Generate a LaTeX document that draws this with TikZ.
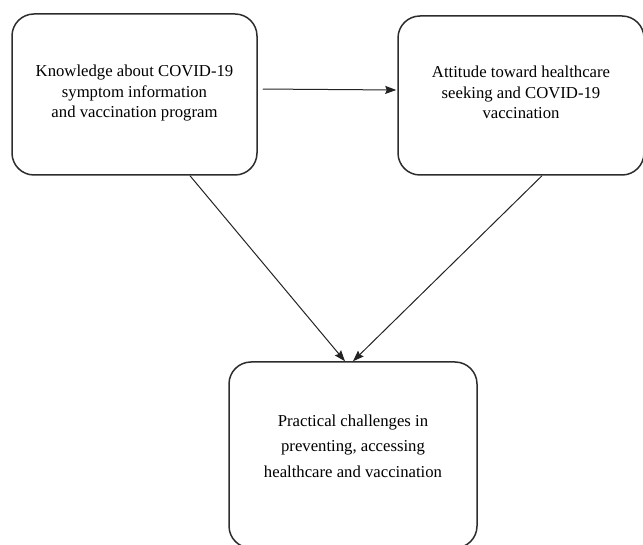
\documentclass[tikz,border=0pt]{standalone}
\usepackage{fontspec}
\setmainfont{Liberation Serif}
\usetikzlibrary{arrows.meta, positioning}
\definecolor{boxline}{RGB}{45,45,45}
\definecolor{arrowline}{RGB}{35,35,35}
\newcommand\boxfont{\fontsize{16.7}{20.5}\selectfont}
\newcommand\widefont{\fontsize{16.7}{25.5}\selectfont}

\begin{document}
\begin{tikzpicture}[
    x=1pt, y=-1pt,
    box/.style={draw=boxline, line width=1.5pt, rounded corners=22pt, inner sep=0pt,
                align=center, font=\boxfont},
    link/.style={-{Stealth[length=11pt, width=8pt, inset=1.5pt]}, arrowline, line width=1pt},
]
\useasboundingbox (0,0) rectangle (643,545);

% ===== Boxes =====
\node[box, minimum width=245pt, minimum height=161pt, text depth=6pt] (know) at (134.5,94.5)
  {Knowledge about COVID-19\\ symptom information\\ and vaccination program};
\node[box, minimum width=246pt, minimum height=159pt, text depth=6pt] (att) at (521,95.5)
  {Attitude toward healthcare\\ seeking and COVID-19\\ vaccination};
\node[box, minimum width=248pt, minimum height=186pt, font=\widefont, text depth=18pt] (prac) at (353,455)
  {Practical challenges in\\ preventing, accessing\\ healthcare and vaccination};

% ===== Links =====
\draw[link, shorten <=5pt, shorten >=1pt] ([yshift=5.5pt]know.east) -- ([yshift=5.5pt]att.west);
\draw[link] ([xshift=55.5pt]know.south) -- ([xshift=-8pt]prac.north);
\draw[link] ([xshift=21pt]att.south) -- (prac.north);

\end{tikzpicture}
\end{document}
